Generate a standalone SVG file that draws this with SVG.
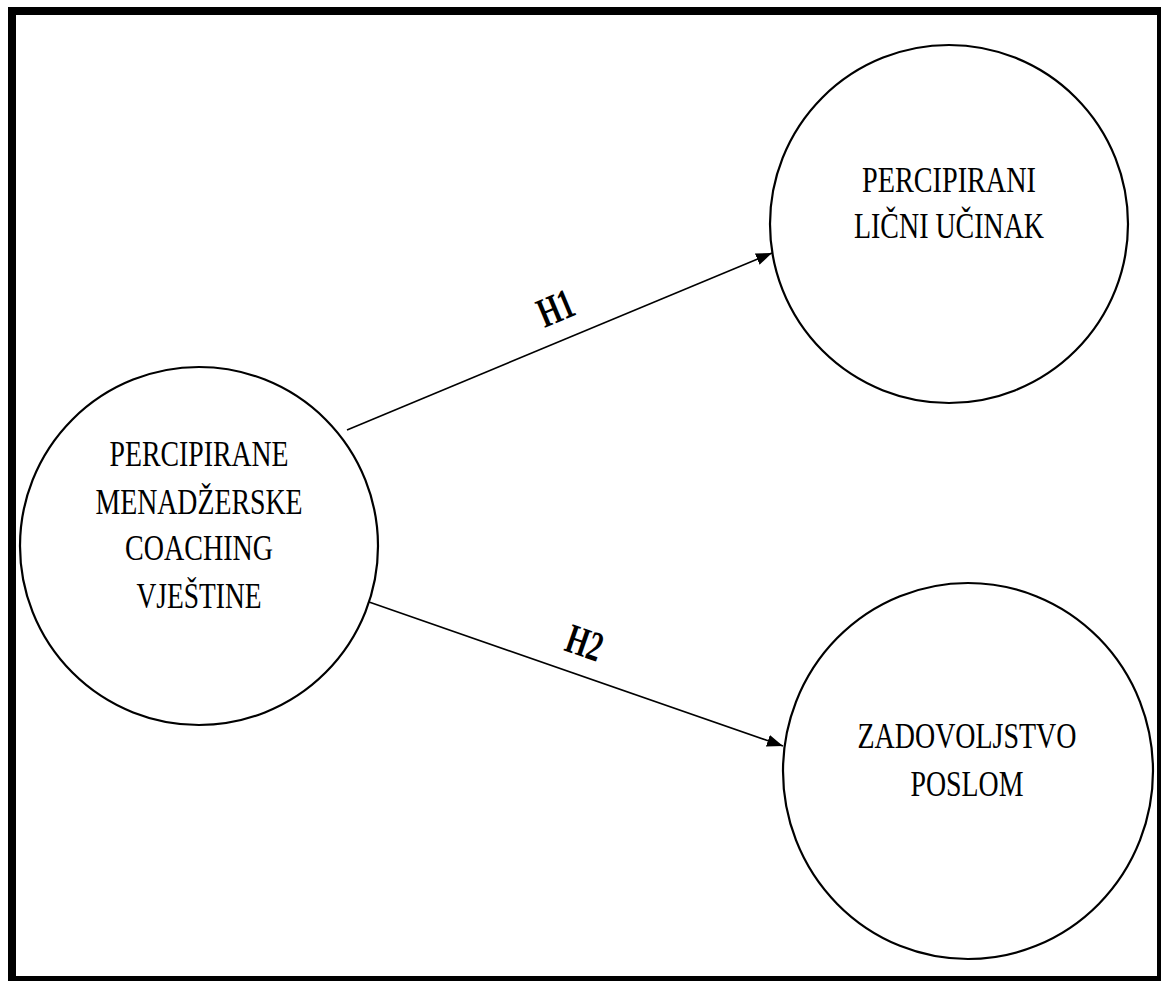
<svg xmlns="http://www.w3.org/2000/svg" width="1161" height="981" viewBox="0 0 1161 981">
<style>
.node{fill:#fff;stroke:#000;stroke-width:2.2}
.lbl{font-family:"Liberation Serif","Times New Roman",serif;font-size:35px;fill:#000;text-anchor:middle}
.h{font-family:"Liberation Serif","Times New Roman",serif;font-size:42px;font-weight:bold;fill:#000;text-anchor:middle}
.conn{stroke:#000;stroke-width:1.6;fill:none}
</style>
<defs>
<marker id="arr" markerUnits="userSpaceOnUse" markerWidth="18" markerHeight="14" refX="16" refY="6" orient="auto">
<path d="M0,0 L16,6 L0,12 z" fill="#000"/>
</marker>
</defs>
<rect x="0" y="0" width="1161" height="981" fill="#fff"/>
<rect x="12" y="11" width="1149" height="969" fill="none" stroke="#000" stroke-width="8"/>
<g id="connectors">
<line class="conn" x1="347" y1="430" x2="772" y2="253" marker-end="url(#arr)"/>
<line class="conn" x1="369" y1="602" x2="783" y2="746" marker-end="url(#arr)"/>
<text class="h" transform="translate(561,321) rotate(-22.7)" textLength="36" lengthAdjust="spacingAndGlyphs">H1</text>
<text class="h" transform="translate(580,656) rotate(19.3)" textLength="36" lengthAdjust="spacingAndGlyphs">H2</text>
</g>
<g id="node-coaching">
<circle class="node" cx="199" cy="546" r="179"/>
<text class="lbl" x="199" y="466" textLength="179" lengthAdjust="spacingAndGlyphs">PERCIPIRANE</text>
<text class="lbl" x="199" y="514" textLength="207" lengthAdjust="spacingAndGlyphs">MENADŽERSKE</text>
<text class="lbl" x="199" y="560" textLength="148" lengthAdjust="spacingAndGlyphs">COACHING</text>
<text class="lbl" x="199" y="608" textLength="125" lengthAdjust="spacingAndGlyphs">VJEŠTINE</text>
</g>
<g id="node-ucinak">
<circle class="node" cx="949" cy="224" r="179"/>
<text class="lbl" x="949" y="192" textLength="174" lengthAdjust="spacingAndGlyphs">PERCIPIRANI</text>
<text class="lbl" x="949" y="238" textLength="190" lengthAdjust="spacingAndGlyphs">LIČNI UČINAK</text>
</g>
<g id="node-zadovoljstvo">
<ellipse class="node" cx="968" cy="771" rx="185" ry="188"/>
<text class="lbl" x="967" y="748" textLength="219" lengthAdjust="spacingAndGlyphs">ZADOVOLJSTVO</text>
<text class="lbl" x="967" y="796" textLength="113" lengthAdjust="spacingAndGlyphs">POSLOM</text>
</g>
</svg>
